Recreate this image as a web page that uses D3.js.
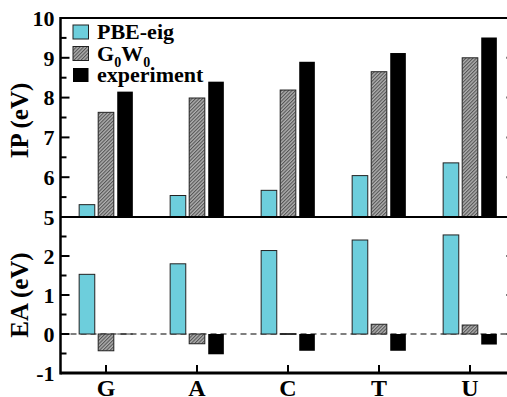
<!DOCTYPE html>
<html>
<head>
<meta charset="utf-8">
<script src="https://cdnjs.cloudflare.com/ajax/libs/d3/7.8.5/d3.min.js"></script>
<style>
  html, body { margin: 0; padding: 0; background: #fff; }
  svg { display: block; }
  text { font-family: "Liberation Serif", "DejaVu Serif", serif; font-weight: bold; fill: #000; }
</style>
</head>
<body>
<svg id="chart"></svg>
<script>
// categories and series
const categories = ['G', 'A', 'C', 'T', 'U'];
const series = ['pbe', 'gw', 'exp'];

// ionization potential (eV)
const ipPBE = [5.31, 5.54, 5.67, 6.04, 6.36];
const ipGW = [7.63, 7.99, 8.19, 8.65, 9.00];
const ipExp = [8.15, 8.40, 8.90, 9.12, 9.51];

// electron affinity (eV)
const eaPBE = [1.53, 1.80, 2.14, 2.41, 2.54];
const eaGW = [-0.43, -0.25, 0.01, 0.25, 0.23];
const eaExp = [0.01, -0.52, -0.43, -0.43, -0.27];

// tick values
const ipTicks = [5, 6, 7, 8, 9, 10];
const eaTicks = [-1, 0, 1, 2];

const width = 507, height = 397;
const left = 60.5, right = 515.5;
const topY = 18, midY = 217, botY = 373;

const svg = d3.select('#chart').attr('width', width).attr('height', height);

// hatch pattern for G0W0
const defs = svg.append('defs');
const pat = defs.append('pattern')
  .attr('id', 'hatch')
  .attr('patternUnits', 'userSpaceOnUse')
  .attr('width', 2.5).attr('height', 2.5)
  .attr('patternTransform', 'rotate(45)');
pat.append('rect').attr('width', 2.5).attr('height', 2.5).attr('fill', '#b0b0b0');
pat.append('rect').attr('width', 1.1).attr('height', 2.5).attr('fill', '#555');

const fills = { pbe: '#6dcedc', gw: 'url(#hatch)', exp: '#000' };

// scales
const x0 = d3.scaleBand().domain(categories).range([left, right])
  .paddingInner(0.41).paddingOuter(0.205);
const x1 = d3.scaleBand().domain(series).range([0, x0.bandwidth()]).paddingInner(0.18);

const yIP = d3.scaleLinear().domain([5, 10]).range([midY, topY]);
const yEA = d3.scaleLinear().domain([-1, 3]).range([botY, midY]);

function rows(a, b, c) {
  return categories.map((cat, i) => [
    { cat, key: 'pbe', v: a[i] },
    { cat, key: 'gw', v: b[i] },
    { cat, key: 'exp', v: c[i] }
  ]).flat();
}

function drawBars(data, y, base) {
  svg.append('g').selectAll('rect')
    .data(data)
    .enter()
    .append('rect')
    .attr('x', d => x0(d.cat) + x1(d.key))
    .attr('width', x1.bandwidth())
    .attr('y', d => y(Math.max(d.v, base)))
    .attr('height', d => Math.max(Math.abs(y(d.v) - y(base)), 0.8))
    .attr('fill', d => fills[d.key])
    .attr('stroke', d => d.key === 'exp' ? 'none' : '#222')
    .attr('stroke-width', 1);
}

// zero dashed line in EA panel
svg.append('line')
  .attr('x1', left).attr('x2', width)
  .attr('y1', yEA(0)).attr('y2', yEA(0))
  .attr('stroke', '#000').attr('stroke-width', 1.2)
  .attr('stroke-dasharray', '6,4');

drawBars(rows(ipPBE, ipGW, ipExp), yIP, 5);
drawBars(rows(eaPBE, eaGW, eaExp), yEA, 0);

// y axes (ticks inward, both sides)
function yAxes(y, ticks, labels) {
  const minor = d3.range(y.domain()[0], y.domain()[1] + 0.001, 0.5);
  const g = svg.append('g');
  minor.forEach(v => {
    const major = Math.abs(v - Math.round(v)) < 1e-6;
    const len = major ? 9 : 6;
    g.append('line').attr('x1', left).attr('x2', left + len)
      .attr('y1', y(v)).attr('y2', y(v)).attr('stroke', '#000').attr('stroke-width', 2);
    g.append('line').attr('x1', right).attr('x2', right - len)
      .attr('y1', y(v)).attr('y2', y(v)).attr('stroke', '#000').attr('stroke-width', 2);
  });
  g.selectAll('text.tick').data(labels).enter().append('text')
    .attr('class', 'tick')
    .attr('x', left - 6)
    .attr('y', d => y(d))
    .attr('dy', '0.35em')
    .attr('text-anchor', 'end')
    .style('font-size', '22px')
    .text(d => d);
}
yAxes(yIP, ipTicks, ipTicks);
yAxes(yEA, d3.range(-1, 3.001, 1), eaTicks);

// frame lines
svg.append('line').attr('x1', left).attr('x2', right).attr('y1', topY).attr('y2', topY)
  .attr('stroke', '#000').attr('stroke-width', 2.2);
svg.append('line').attr('x1', left).attr('x2', right).attr('y1', midY).attr('y2', midY)
  .attr('stroke', '#000').attr('stroke-width', 2.2);
svg.append('line').attr('x1', left).attr('x2', left).attr('y1', topY - 1).attr('y2', botY + 1.5)
  .attr('stroke', '#000').attr('stroke-width', 2.5);
svg.append('line').attr('x1', right).attr('x2', right).attr('y1', topY).attr('y2', botY)
  .attr('stroke', '#000').attr('stroke-width', 2.2);

// bottom x axis
const xAxis = d3.axisBottom(x0).tickSize(0).tickPadding(0);
const xg = svg.append('g').attr('transform', `translate(0,${botY})`).call(xAxis);
xg.select('.domain').remove();
xg.selectAll('.tick line').remove();
xg.selectAll('.tick text')
  .attr('y', 23)
  .attr('dy', 0)
  .style('font-family', '"Liberation Serif", serif')
  .style('font-weight', 'bold')
  .style('font-size', '24px')
  .attr('fill', '#000');
categories.forEach(c => {
  const cx = x0(c) + x0.bandwidth() / 2;
  svg.append('line').attr('x1', cx).attr('x2', cx).attr('y1', botY).attr('y2', botY - 8)
    .attr('stroke', '#000').attr('stroke-width', 2);
});
svg.append('line').attr('x1', left).attr('x2', right).attr('y1', botY).attr('y2', botY)
  .attr('stroke', '#000').attr('stroke-width', 3);

// axis titles
svg.append('text')
  .attr('transform', `translate(28,${(topY + midY) / 2 + 3}) rotate(-90)`)
  .attr('text-anchor', 'middle')
  .style('font-size', '25px')
  .text('IP (eV)');
svg.append('text')
  .attr('transform', `translate(28,${(midY + botY) / 2}) rotate(-90)`)
  .attr('text-anchor', 'middle')
  .style('font-size', '25px')
  .text('EA (eV)');

// legend
const legend = svg.append('g').attr('transform', 'translate(73,25)');
const legendRows = [
  { key: 'pbe', label: 'PBE-eig' },
  { key: 'gw', label: 'G0W0' },
  { key: 'exp', label: 'experiment' }
];
legendRows.forEach((r, i) => {
  const gy = i * 21.5;
  legend.append('rect')
    .attr('x', 0).attr('y', gy)
    .attr('width', 15.5).attr('height', 14)
    .attr('fill', fills[r.key])
    .attr('stroke', r.key === 'exp' ? 'none' : '#222')
    .attr('stroke-width', 1);
  const t = legend.append('text')
    .attr('x', 24).attr('y', gy + 14)
    .style('font-size', '22px');
  if (r.key === 'gw') {
    t.append('tspan').text('G');
    t.append('tspan').attr('dy', 6).style('font-size', '14px').text('0');
    t.append('tspan').attr('dy', -6).text('W');
    t.append('tspan').attr('dy', 6).style('font-size', '14px').text('0');
  } else {
    t.text(r.label);
  }
});
</script>
</body>
</html>
